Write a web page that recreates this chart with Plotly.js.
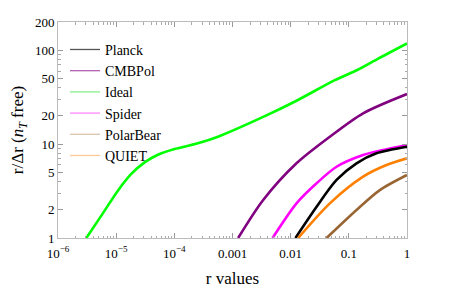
<!DOCTYPE html>
<html>
<head>
<meta charset="utf-8">
<script src="https://cdn.plot.ly/plotly-3.0.1.min.js"></script>
<style>
html,body{margin:0;padding:0;background:#fff;}
#chart{width:471px;height:291px;}
#chart svg text{font-family:"Liberation Serif","Times New Roman",serif !important;}
</style>
</head>
<body>
<div id="chart"></div>
<script>
const seriesNames = ["Planck", "CMBPol", "Ideal", "Spider", "PolarBear", "QUIET"];
const lineColors = ["#000000", "#800080", "#00ff00", "#ff00ff", "#996633", "#ff8000"];
const legendColors = ["#555555", "#b360b3", "#88f088", "#ff88ff", "#d9c4ae", "#ffc896"];

const planckX = [0.0121, 0.0279, 0.0615, 0.1355, 0.299, 1];
const planckY = [1, 2.15, 4.15, 6.25, 7.98, 9.38];
const cmbpolX = [1.25e-3, 3.37e-3, 0.0126, 0.0472, 0.176, 1];
const cmbpolY = [1, 2.54, 6.25, 12.0, 21.3, 34.2];
const idealX = [3.07e-6, 5.56e-6, 1.07e-5, 1.82e-5, 3.08e-5, 5.22e-5, 1.01e-4, 2.54e-4, 5.62e-4, 3.37e-3, 0.0126, 0.0575, 0.143, 0.315, 1];
const idealY = [1, 1.73, 3.19, 4.81, 6.40, 7.71, 8.87, 10.2, 12.0, 19.5, 29.0, 48.0, 62.0, 81.0, 118];
const spiderX = [4.89e-3, 0.0126, 0.0279, 0.0615, 0.176, 0.389, 1];
const spiderY = [1, 2.34, 3.83, 5.74, 7.65, 8.65, 9.78];
const polarbearX = [0.0414, 0.1355, 0.341, 1];
const polarbearY = [1, 1.99, 3.24, 4.69];
const quietX = [0.01346, 0.0472, 0.176, 0.4436, 1];
const quietY = [1, 2.34, 4.5, 5.99, 7.06];

const xs = [planckX, cmbpolX, idealX, spiderX, polarbearX, quietX];
const ys = [planckY, cmbpolY, idealY, spiderY, polarbearY, quietY];

const xTickVals = [1e-6, 1e-5, 1e-4, 0.001, 0.01, 0.1, 1];
const xTickText = ["10<sup>\u22126</sup>", "10<sup>\u22125</sup>", "10<sup>\u22124</sup>", "0.001", "0.01", "0.1", "1"];
const yTickVals = [1, 2, 5, 10, 20, 50, 100, 200];
const yTickText = ["1", "2", "5", "10", "20", "50", "100", "200"];

const traces = [];
const order = [2, 1, 3, 0, 5, 4];
order.forEach(i => {
  traces.push({
    x: xs[i], y: ys[i], type: "scatter", mode: "lines",
    line: {color: lineColors[i], width: 2.6, shape: "spline", smoothing: 0.8},
    showlegend: false, hoverinfo: "skip"
  });
});
seriesNames.forEach((n, i) => {
  traces.push({
    x: [null], y: [null], type: "scatter", mode: "lines", name: n,
    line: {color: legendColors[i], width: 1.3}, showlegend: true
  });
});

const serif = "Liberation Serif, Times New Roman, serif";
const layout = {
  width: 471, height: 291,
  margin: {l: 58, r: 64, t: 22, b: 53},
  paper_bgcolor: "#fff", plot_bgcolor: "#fff",
  font: {family: serif, color: "#000", size: 13},
  showlegend: true,
  legend: {x: 0.02, y: 0.945, xanchor: "left", yanchor: "top", bgcolor: "rgba(0,0,0,0)",
           font: {family: serif, size: 14}, tracegroupgap: 0},
  xaxis: {
    type: "log", range: [-6, 0], showgrid: false, zeroline: false,
    showline: true, linecolor: "#bbbbbb", linewidth: 1, mirror: "allticks",
    ticks: "inside", ticklen: 5, tickcolor: "#999", tickwidth: 1,
    tickvals: xTickVals, ticktext: xTickText, ticklabelstandoff: 3,
    tickfont: {family: serif, size: 13},
    minor: {ticks: "inside", ticklen: 2.5, tickcolor: "#aaa", dtick: "D1"},
    title: {text: "r values", font: {family: serif, size: 17}, standoff: 12}
  },
  yaxis: {
    type: "log", range: [0, Math.log10(200)], showgrid: false, zeroline: false,
    showline: true, linecolor: "#bbbbbb", linewidth: 1, mirror: "allticks",
    ticks: "inside", ticklen: 5, tickcolor: "#999", tickwidth: 1,
    tickvals: yTickVals, ticktext: yTickText,
    tickfont: {family: serif, size: 13},
    minor: {ticks: "inside", ticklen: 2.5, tickcolor: "#aaa", dtick: "D1"},
    title: {text: "r/\u0394r (<i>n</i><sub><i>T</i></sub> free)", font: {family: serif, size: 17}, standoff: 6}
  }
};
Plotly.newPlot("chart", traces, layout, {displayModeBar: false, staticPlot: true});
</script>
</body>
</html>
